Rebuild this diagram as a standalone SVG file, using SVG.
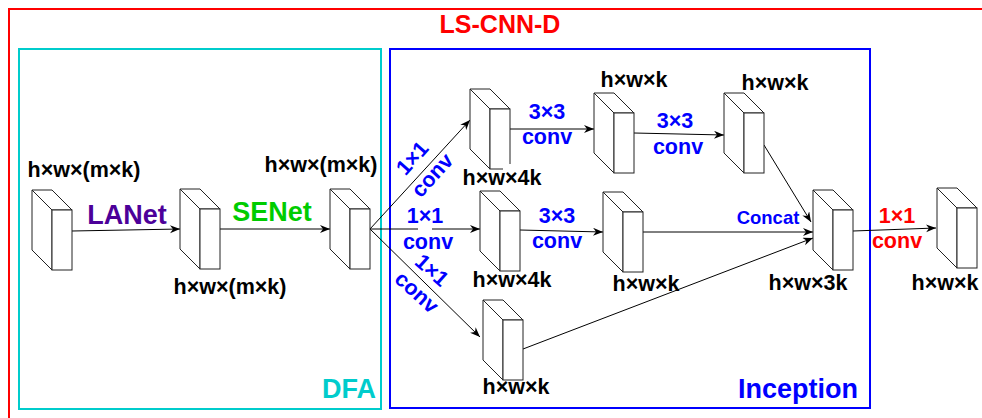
<svg xmlns="http://www.w3.org/2000/svg" xmlns:xlink="http://www.w3.org/1999/xlink" width="982" height="418" viewBox="0 0 982 418">
<style>
text{font-family:"Liberation Sans",Arial,Helvetica,sans-serif;font-weight:bold;}
.dim{font-size:21.5px;fill:#000;text-anchor:middle;}
.op{font-size:21.5px;fill:#0000FF;text-anchor:middle;}
.big{font-size:27px;text-anchor:middle;}
.cube path,.cube rect{fill:#fff;stroke:#222;stroke-width:1;}
.edge{fill:none;stroke:#000;stroke-width:1;marker-end:url(#arr);}
</style>
<defs>
<marker id="arr" markerUnits="userSpaceOnUse" markerWidth="11" markerHeight="9" refX="10" refY="4" orient="auto">
<path d="M0,0 L10,4 L0,8 L3,4 Z" fill="#000"/>
</marker>
<g id="cube" class="cube">
<path d="M0,0 L20,0 L40,20 L20,20 Z"/>
<path d="M0,0 L20,20 L20,80 L0,60 Z"/>
<rect x="20" y="20" width="20" height="60"/>
</g>
</defs>
<rect width="982" height="418" fill="#fff"/>
<g id="frames">
<rect x="9" y="9" width="990" height="420" fill="none" stroke="#FF0000" stroke-width="2"/>
<rect x="19" y="49" width="362" height="360" fill="none" stroke="#00CCCC" stroke-width="2"/>
<rect x="390" y="49" width="480" height="359" fill="none" stroke="#0000FF" stroke-width="2"/>
<text x="500" y="33" style="font-size:25px;fill:#FF0000;text-anchor:middle;">LS-CNN-D</text>
<text x="376" y="398" class="big" style="fill:#00CCCC;text-anchor:end;">DFA</text>
<text x="798" y="398" class="big" style="fill:#0000FF;">Inception</text>
</g>
<g id="connectors">
<line class="edge" x1="72" y1="231" x2="180" y2="229"/>
<line class="edge" x1="220" y1="229" x2="330" y2="229"/>
<line class="edge" x1="370" y1="229" x2="470" y2="120"/>
<line class="edge" x1="370" y1="229" x2="480" y2="229"/>
<line class="edge" x1="370" y1="229" x2="480" y2="337"/>
<line class="edge" x1="510" y1="129" x2="594" y2="129"/>
<line class="edge" x1="634" y1="133" x2="724" y2="135"/>
<line class="edge" x1="520" y1="230" x2="603" y2="232"/>
<line class="edge" x1="764" y1="145" x2="811" y2="222"/>
<line class="edge" x1="643" y1="232" x2="813" y2="232"/>
<line class="edge" x1="523" y1="349" x2="813" y2="238"/>
<line class="edge" x1="853" y1="231" x2="936" y2="228"/>
<text x="127" y="224" class="big" style="fill:#4C0099;">LANet</text>
<text x="272" y="221" class="big" style="fill:#00CC00;">SENet</text>
<g transform="translate(412,158) rotate(-48)"><text class="op" dy="0.35em">1×1</text></g>
<g transform="translate(432,175) rotate(-48)"><text class="op" dy="0.35em">conv</text></g>
<rect x="418" y="226" width="14" height="6" fill="#fff"/>
<text x="425" y="223" class="op">1×1</text>
<text x="428" y="249" class="op">conv</text>
<g transform="translate(432,270) rotate(42)"><text class="op" dy="0.35em">1×1</text></g>
<g transform="translate(417,292) rotate(42)"><text class="op" dy="0.35em">conv</text></g>
<text x="547" y="119" class="op">3×3</text>
<text x="547" y="144" class="op">conv</text>
<text x="675" y="128" class="op">3×3</text>
<text x="678" y="154" class="op">conv</text>
<text x="557" y="223" class="op">3×3</text>
<text x="557" y="248" class="op">conv</text>
<text x="768" y="224" style="font-size:18.5px;fill:#0000FF;text-anchor:middle;">Concat</text>
<text x="897" y="223" class="op" style="fill:#FF0000;">1×1</text>
<text x="897" y="248" class="op" style="fill:#FF0000;">conv</text>
</g>
<g id="n1"><use xlink:href="#cube" x="32" y="190"/><text x="84" y="177" class="dim">h×w×(m×k)</text></g>
<g id="n2"><use xlink:href="#cube" x="180" y="189"/><text x="230" y="294" class="dim">h×w×(m×k)</text></g>
<g id="n3"><use xlink:href="#cube" x="330" y="189"/><text x="321" y="172" class="dim">h×w×(m×k)</text></g>
<g id="n4"><use xlink:href="#cube" x="470" y="89"/><rect x="503" y="164" width="40" height="26" fill="#fff"/><text x="502" y="185" class="dim">h×w×4k</text></g>
<g id="n5"><use xlink:href="#cube" x="480" y="191"/><text x="512" y="287" class="dim">h×w×4k</text></g>
<g id="n6"><use xlink:href="#cube" x="483" y="300"/><text x="516" y="394" class="dim">h×w×k</text></g>
<g id="n7"><use xlink:href="#cube" x="594" y="93"/><text x="634" y="87" class="dim">h×w×k</text></g>
<g id="n8"><use xlink:href="#cube" x="724" y="93"/><text x="775" y="90" class="dim">h×w×k</text></g>
<g id="n9"><use xlink:href="#cube" x="603" y="192"/><text x="646" y="291" class="dim">h×w×k</text></g>
<g id="n10"><use xlink:href="#cube" x="813" y="190"/><text x="808" y="290" class="dim">h×w×3k</text></g>
<g id="n11"><use xlink:href="#cube" x="937" y="188"/><text x="945" y="290" class="dim">h×w×k</text></g>
</svg>
